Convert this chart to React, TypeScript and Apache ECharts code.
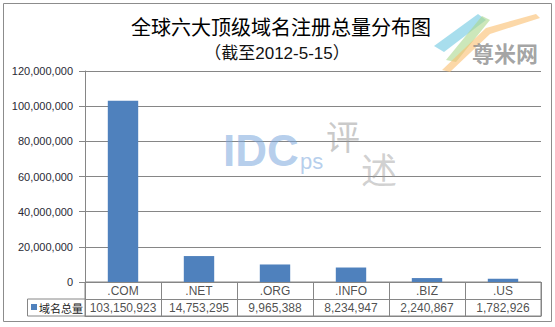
import React, { useEffect, useRef } from "react";
import * as echarts from "echarts";

const categories = [".COM", ".NET", ".ORG", ".INFO", ".BIZ", ".US"];
const totals = [103150923, 14753295, 9965388, 8234947, 2240867, 1782926];
const seriesName = "域名总量";
const titleText = "全球六大顶级域名注册总量分布图";
const subtitleText = "（截至2012-5-15）";
const yTicks = { min: 0, max: 120000000, interval: 20000000 };

const fmt = (v: number) => Number(v).toLocaleString("en-US");

export default function App() {
  const ref = useRef<HTMLDivElement>(null);
  useEffect(() => {
    const chart = echarts.init(ref.current!, null, { renderer: "svg" });
    const gridColor = "#868686";
    const font = "Liberation Sans, Arial, sans-serif";
    const option: any = {
      animation: false,
      backgroundColor: "#ffffff",
      title: [
        {
          text: titleText,
          left: 276,
          top: 11,
          textAlign: "center",
          textStyle: { fontSize: 20, fontWeight: "normal", color: "#000", fontFamily: "Noto Sans CJK SC" },
        },
        {
          text: subtitleText,
          left: 272,
          top: 40,
          textAlign: "center",
          textStyle: { fontSize: 17, fontWeight: "normal", color: "#111", fontFamily: "Liberation Sans, Noto Sans CJK SC" },
        },
      ],
      grid: [
        { left: 85, right: 14, top: 71, height: 211, show: false },
        { left: 85, right: 14, top: 282, height: 34, show: true, borderColor: gridColor, borderWidth: 1, backgroundColor: "transparent" },
      ],
      xAxis: [
        {
          gridIndex: 0,
          type: "category",
          data: categories,
          boundaryGap: true,
          axisLine: { show: true, lineStyle: { color: gridColor } },
          axisTick: { show: false },
          axisLabel: { show: false },
          splitLine: { show: false },
        },
        {
          gridIndex: 1,
          type: "category",
          data: categories,
          boundaryGap: true,
          axisLine: { show: true, lineStyle: { color: gridColor } },
          axisTick: { show: false },
          axisLabel: { show: false },
          splitLine: { show: true, interval: 0, lineStyle: { color: gridColor } },
        },
      ],
      yAxis: [
        {
          gridIndex: 0,
          type: "value",
          min: yTicks.min,
          max: yTicks.max,
          interval: yTicks.interval,
          axisLine: { show: true, lineStyle: { color: gridColor } },
          axisTick: { show: true, length: 6, lineStyle: { color: gridColor } },
          axisLabel: { margin: 12, fontSize: 11, color: "#2a2a35", fontFamily: font, formatter: (v: number) => fmt(v) },
          splitLine: { show: true, lineStyle: { color: gridColor } },
        },
        {
          gridIndex: 1,
          type: "value",
          min: 0,
          max: 2,
          interval: 1,
          axisLine: { show: true, lineStyle: { color: gridColor } },
          axisTick: { show: false },
          axisLabel: { show: false },
          splitLine: { show: true, lineStyle: { color: gridColor } },
        },
      ],
      series: [
        {
          name: seriesName,
          type: "bar",
          xAxisIndex: 0,
          yAxisIndex: 0,
          data: totals,
          barWidth: "40%",
          itemStyle: { color: "#4F81BD" },
        },
        {
          type: "scatter",
          xAxisIndex: 1,
          yAxisIndex: 1,
          symbolSize: 1,
          itemStyle: { color: "rgba(0,0,0,0)" },
          silent: true,
          data: categories.map((c) => [c, 1.5, c]),
          label: {
            show: true,
            position: "inside",
            formatter: (p: any) => p.data[2],
            fontSize: 12,
            color: "#222",
            fontFamily: font,
          },
        },
        {
          type: "scatter",
          xAxisIndex: 1,
          yAxisIndex: 1,
          symbolSize: 1,
          itemStyle: { color: "rgba(0,0,0,0)" },
          silent: true,
          data: categories.map((c, i) => [c, 0.5, fmt(totals[i])]),
          label: {
            show: true,
            position: "inside",
            formatter: (p: any) => p.data[2],
            fontSize: 12,
            color: "#222",
            fontFamily: font,
          },
        },
      ],
      graphic: [
        {
          type: "rect",
          shape: { x: 3.5, y: 3.5, width: 548, height: 318 },
          style: { fill: "none", stroke: "#8c8c8c", lineWidth: 1 },
          z: -1,
        },
        {
          type: "rect",
          shape: { x: 27.5, y: 299, width: 57.5, height: 17 },
          style: { fill: "#fff", stroke: gridColor, lineWidth: 1 },
        },
        {
          type: "rect",
          shape: { x: 31, y: 304, width: 6, height: 6 },
          style: { fill: "#4F81BD" },
        },
        {
          type: "text",
          x: 39,
          y: 307.5,
          style: { text: seriesName, fontSize: 11, fill: "#222", fontFamily: "Noto Sans CJK SC", verticalAlign: "middle" },
        },
        // watermark IDCps 评述
        {
          type: "text",
          x: 223,
          y: 128,
          style: { text: "IDC", fontSize: 44, fontWeight: "bold", fill: "rgba(120,165,220,0.55)", fontFamily: "Liberation Sans, Arial" },
          z: 10,
        },
        {
          type: "text",
          x: 300,
          y: 150,
          style: { text: "ps", fontSize: 22, fill: "rgba(120,165,220,0.55)", fontFamily: "Liberation Sans, Arial" },
          z: 10,
        },
        {
          type: "text",
          x: 326,
          y: 118,
          style: { text: "评", fontSize: 34, fill: "rgba(150,150,150,0.5)", fontFamily: "Noto Sans CJK SC" },
          z: 10,
        },
        {
          type: "text",
          x: 361,
          y: 150,
          style: { text: "述", fontSize: 36, fill: "rgba(150,150,150,0.45)", fontFamily: "Noto Sans CJK SC" },
          z: 10,
        },
        // logo top right
        {
          type: "polygon",
          shape: { points: [[434, 46], [444, 52], [486, 20], [478, 14]] },
          style: { fill: "rgba(110,200,225,0.6)" },
          z: 10,
        },
        {
          type: "polygon",
          shape: { points: [[446, 60], [456, 62], [490, 20], [482, 16]] },
          style: { fill: "rgba(170,215,140,0.6)" },
          z: 10,
        },
        {
          type: "polygon",
          shape: { points: [[442, 70], [450, 72], [490, 34], [540, 18], [536, 14], [486, 28]] },
          style: { fill: "rgba(250,190,110,0.6)" },
          z: 10,
        },
        {
          type: "text",
          x: 472,
          y: 41,
          style: { text: "尊米网", fontSize: 22, fontWeight: "bold", fill: "rgba(140,140,140,0.8)", fontFamily: "Noto Sans CJK SC" },
          z: 11,
        },
      ],
    };
    chart.setOption(option);
    return () => chart.dispose();
  }, []);
  return (
    <div
      ref={ref}
      style={{ position: "fixed", left: 0, top: 0, width: 555, height: 327, background: "#fff" }}
    />
  );
}
